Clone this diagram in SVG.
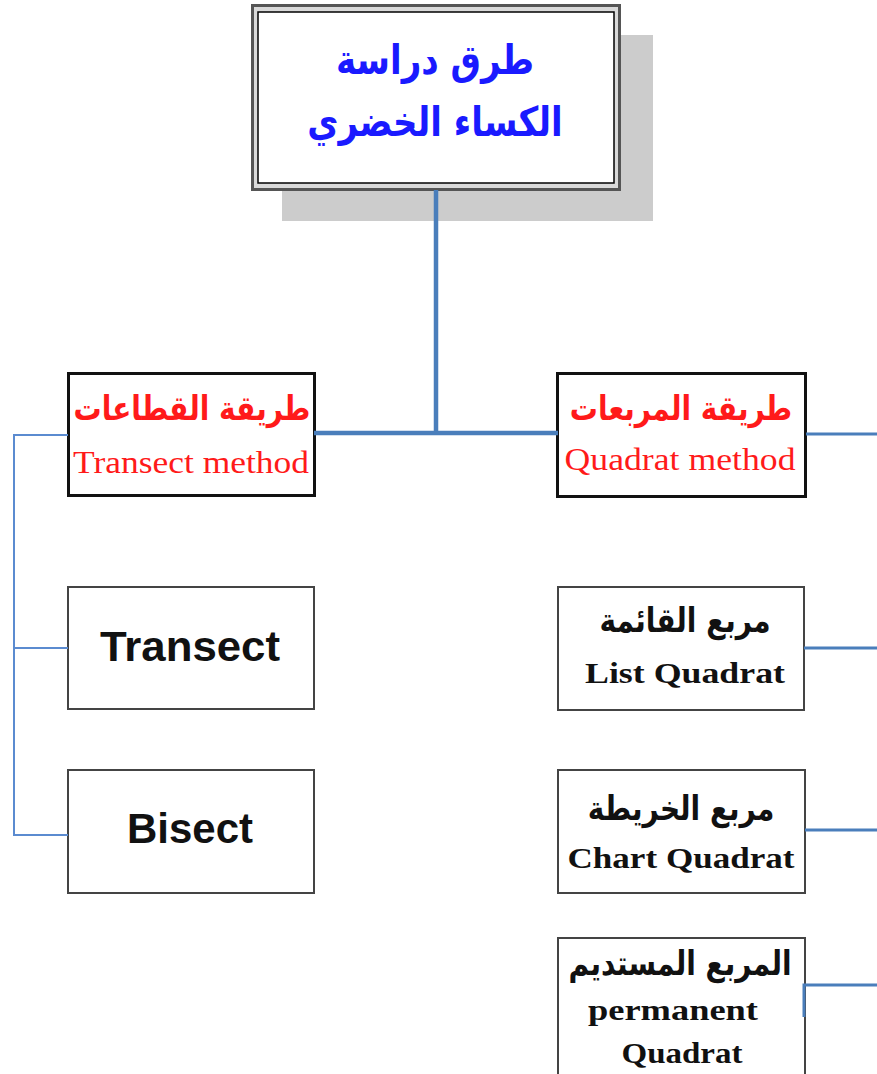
<svg xmlns="http://www.w3.org/2000/svg" width="877" height="1074" viewBox="0 0 877 1074">
<style>
.ar{font-family:"DejaVu Sans",sans-serif;font-weight:bold;text-anchor:middle}
.tm{font-family:"Liberation Serif",serif;text-anchor:middle}
.ab{font-family:"Liberation Sans",sans-serif;font-weight:bold;text-anchor:middle;font-size:42px;fill:#111}
.lvl1{fill:#fff;stroke:#111;stroke-width:3}
.leaf{fill:#fff;stroke:#444;stroke-width:2}
.red{fill:#ff1a1a}
.blk{fill:#111}
.thick{stroke:#4a7ebb;stroke-width:4.5;fill:none}
.mid{stroke:#4a7ebb;stroke-width:3;fill:none}
.thin{stroke:#5b8bd0;stroke-width:2;fill:none}
</style>
<rect width="877" height="1074" fill="#fff"/>
<g id="root">
<rect x="282" y="35" width="371" height="186" fill="#cccccc"/>
<rect x="252.5" y="5.5" width="367" height="184" fill="#d9d9d9" stroke="#555" stroke-width="3"/>
<rect x="258" y="12" width="356" height="171" fill="#fff" stroke="#000" stroke-width="1.5"/>
<text class="ar" transform="translate(435,74) scale(1,1.2)" font-size="34" fill="#1a1aff">طرق دراسة</text>
<text class="ar" transform="translate(435,136) scale(1,1.2)" font-size="34" fill="#1a1aff">الكساء الخضري</text>
</g>
<g id="transect-method">
<rect class="lvl1" x="68.5" y="373.5" width="246" height="122"/>
<text class="ar red" transform="translate(192,420) scale(1,1.2)" font-size="28">طريقة القطاعات</text>
<text class="tm red" x="191" y="473" font-size="31" textLength="236" lengthAdjust="spacingAndGlyphs">Transect method</text>
</g>
<g id="quadrat-method">
<rect class="lvl1" x="557.5" y="373.5" width="248" height="123"/>
<text class="ar red" transform="translate(681,420) scale(1,1.2)" font-size="28">طريقة المربعات</text>
<text class="tm red" x="680" y="470" font-size="31" textLength="231" lengthAdjust="spacingAndGlyphs">Quadrat method</text>
</g>
<g id="transect">
<rect class="leaf" x="68" y="587" width="246" height="122"/>
<text class="ab" x="190" y="661" textLength="180" lengthAdjust="spacingAndGlyphs">Transect</text>
</g>
<g id="bisect">
<rect class="leaf" x="68" y="770" width="246" height="123"/>
<text class="ab" x="190" y="843" textLength="126" lengthAdjust="spacingAndGlyphs">Bisect</text>
</g>
<g id="list-quadrat">
<rect class="leaf" x="558" y="587" width="246" height="123"/>
<text class="ar blk" transform="translate(685,632) scale(1,1.2)" font-size="28">مربع القائمة</text>
<text class="tm blk" x="685" y="683" font-size="30" font-weight="bold" textLength="200" lengthAdjust="spacingAndGlyphs">List Quadrat</text>
</g>
<g id="chart-quadrat">
<rect class="leaf" x="558" y="770" width="247" height="123"/>
<text class="ar blk" transform="translate(681,820) scale(1,1.2)" font-size="28">مربع الخريطة</text>
<text class="tm blk" x="681" y="868" font-size="30" font-weight="bold" textLength="227" lengthAdjust="spacingAndGlyphs">Chart Quadrat</text>
</g>
<g id="permanent-quadrat">
<rect class="leaf" x="558" y="938" width="247" height="150"/>
<text class="ar blk" transform="translate(680,975) scale(1,1.2)" font-size="28">المربع المستديم</text>
<text class="tm blk" x="673" y="1020" font-size="30" font-weight="bold" textLength="170" lengthAdjust="spacingAndGlyphs">permanent</text>
<text class="tm blk" x="682" y="1063" font-size="30" font-weight="bold" textLength="121" lengthAdjust="spacingAndGlyphs">Quadrat</text>
</g>
<g id="connectors">
<path class="thick" d="M436,190 V433 M314,433 H558"/>
<path class="thin" d="M68,435 H14 V835 H68 M14,648 H68"/>
<path class="mid" d="M806,434 H877 M804,648 H877 M805,830 H877 M877,985 H804 V1017"/>
</g>
</svg>
